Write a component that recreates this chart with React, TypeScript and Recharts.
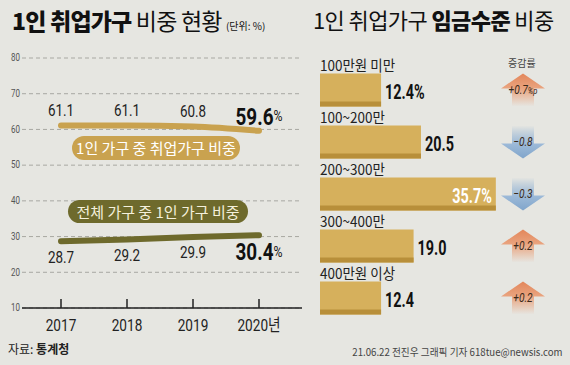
import React from 'react';
import {
  LineChart, Line, XAxis, YAxis, CartesianGrid, LabelList,
  BarChart, Bar,
} from 'recharts';

const years = ['2017', '2018', '2019', '2020'];
const employedShare = [61.1, 61.1, 60.8, 59.6];
const singleShare = [28.7, 29.2, 29.9, 30.4];
const yTicks = [10, 20, 30, 40, 50, 60, 70, 80];

const wageBands = ['100만원 미만', '100~200만', '200~300만', '300~400만', '400만원 이상'];
const wageShare = [12.4, 20.5, 35.7, 19.0, 12.4];
const wageChange = [0.7, -0.8, -0.3, 0.2, 0.2];

const BG = '#e6e6e1';
const GOLD = '#c9a24f';
const OLIVE = '#6e6a2c';
const BAR = '#d6b05c';
const BAR_DARK = '#b88f3a';
const NUM = 'Roboto, "Noto Sans CJK KR", sans-serif';
const KR = '"Noto Sans CJK KR", sans-serif';

const lineData = years.map((y, i) => ({ year: y, employed: employedShare[i], single: singleShare[i] }));
const barData = wageBands.map((n, i) => ({ name: n, value: wageShare[i], change: wageChange[i] }));

// condensed look: the reference uses a narrow face, so squeeze horizontally
const Narrow = ({ x, y, sx = 0.8, children, ...rest }: any) => (
  <text transform={`translate(${x} ${y}) scale(${sx} 1)`} dominantBaseline="central" fontFamily={NUM} {...rest}>
    {children}
  </text>
);

const pointLabel = (offset: number, last: number) => (props: any) => {
  const { x, y, value, index } = props;
  if (index === last) {
    return (
      <Narrow x={x} y={y + offset} sx={0.82} textAnchor="middle" fill="#111">
        <tspan fontSize={23} fontWeight="bold">{Number(value).toFixed(1)}</tspan>
        <tspan fontSize={15}>%</tspan>
      </Narrow>
    );
  }
  return (
    <Narrow x={x} y={y + offset} sx={0.84} textAnchor="middle" fontSize={16} fill="#222">
      {Number(value).toFixed(1)}
    </Narrow>
  );
};

const YearTick = (props: any) => {
  const { x, y, payload } = props;
  return (
    <g>
      <line x1={x} x2={x} y1={y} y2={y - 9} stroke="#222" strokeWidth={1.5} />
      <Narrow x={x} y={y + 17} sx={0.8} textAnchor="middle" fontSize={17} fill="#222">
        {payload.value === '2020' ? '2020년' : payload.value}
      </Narrow>
    </g>
  );
};

const ValueTick = (props: any) => {
  const { x, y, payload } = props;
  return (
    <Narrow x={x} y={y} sx={0.8} textAnchor="end" fontSize={10} fill="#555">
      {payload.value}
    </Narrow>
  );
};

const WageBar = (props: any) => {
  const { x, y, width, height } = props;
  return (
    <g>
      <rect x={x} y={y} width={width} height={height} fill={BAR} />
      <rect x={x} y={y + height - 5} width={width} height={5} fill={BAR_DARK} />
    </g>
  );
};

const ValueLabel = (props: any) => {
  const { x, y, width, height, index } = props;
  const v = wageShare[index];
  const txt = v.toFixed(1) + (index === 0 || index === 2 ? '%' : '');
  const inside = index === 2;
  return (
    <Narrow
      x={inside ? x + width - 4 : x + width + 4}
      y={y + height / 2 + 2}
      sx={0.72}
      textAnchor={inside ? 'end' : 'start'}
      fontSize={20}
      fontWeight="bold"
      fill={inside ? '#fff' : '#111'}
    >
      {txt}
    </Narrow>
  );
};

const NameLabel = (props: any) => {
  const { x, y, index } = props;
  return (
    <Narrow x={x} y={y - 9} sx={0.9} fontSize={15} fontFamily={KR} fill="#222">
      {wageBands[index]}
    </Narrow>
  );
};

const ChangeArrow = (props: any) => {
  const { y, height, index } = props;
  const c = wageChange[index];
  const cx = 223;
  const top = y;
  const bot = y + height;
  const up = c > 0;
  const id = `grad-${index}`;
  const pts = up
    ? [[cx, top], [cx + 22, top + 15], [cx + 11, top + 15], [cx + 11, bot], [cx - 11, bot], [cx - 11, top + 15], [cx - 22, top + 15]]
    : [[cx - 11, top], [cx + 11, top], [cx + 11, bot - 15], [cx + 22, bot - 15], [cx, bot], [cx - 22, bot - 15], [cx - 11, bot - 15]];
  const label = (up ? '+' : '−') + Math.abs(c).toFixed(1);
  return (
    <g>
      <defs>
        <linearGradient id={id} x1="0" y1="0" x2="0" y2="1">
          {up ? (
            <>
              <stop offset="0%" stopColor="#e3865a" />
              <stop offset="45%" stopColor="#e9a47f" />
              <stop offset="100%" stopColor="#e9a47f" stopOpacity={0} />
            </>
          ) : (
            <>
              <stop offset="0%" stopColor="#88acd0" stopOpacity={0} />
              <stop offset="55%" stopColor="#9dbad8" />
              <stop offset="100%" stopColor="#80a5cb" />
            </>
          )}
        </linearGradient>
      </defs>
      <polygon points={pts.map((p) => p.join(',')).join(' ')} fill={`url(#${id})`} />
      <Narrow x={cx} y={top + 17} sx={0.85} textAnchor="middle" fontSize={12} fontStyle="italic" fill="#3a2a1a">
        {label}
        {index === 0 && <tspan fontSize={9}>%p</tspan>}
      </Narrow>
    </g>
  );
};

export default function App() {
  return (
    <div style={{ position: 'absolute', left: 0, top: 0, width: 570, height: 365, background: BG, overflow: 'hidden', fontFamily: KR }}>
      <div style={{ position: 'absolute', left: 12, top: 3, fontSize: 23, color: '#111', whiteSpace: 'nowrap', letterSpacing: -0.8 }}>
        <b style={{ fontWeight: 900 }}>1인 취업가구</b> 비중 현황 <span style={{ fontSize: 10, letterSpacing: 0 }}>(단위: %)</span>
      </div>
      <div style={{ position: 'absolute', left: 313, top: 3, fontSize: 22, color: '#111', whiteSpace: 'nowrap', letterSpacing: -0.6 }}>
        1인 취업가구 <b style={{ fontWeight: 900 }}>임금수준</b> 비중
      </div>

      <div style={{ position: 'absolute', left: 0, top: 0 }}>
        <LineChart width={302} height={340} data={lineData} margin={{ top: 58, right: 0, bottom: 2, left: 0 }}>
          <CartesianGrid vertical={false} stroke="#a8a8a2" strokeDasharray="4 3" />
          <YAxis
            domain={[10, 80]}
            ticks={yTicks}
            width={22}
            axisLine={false}
            tickLine={false}
            tickSize={0}
            tick={<ValueTick />}
          />
          <XAxis
            dataKey="year"
            padding={{ left: 39, right: 43 }}
            height={30}
            axisLine={{ stroke: '#222', strokeWidth: 1.5 }}
            tickLine={false}
            tickSize={0}
            tickMargin={0}
            tick={<YearTick />}
          />
          <Line dataKey="employed" type="monotone" stroke={GOLD} strokeWidth={6} strokeLinecap="round" dot={false} isAnimationActive={false}>
            <LabelList dataKey="employed" content={pointLabel(-15, 3)} />
          </Line>
          <Line dataKey="single" type="monotone" stroke={OLIVE} strokeWidth={6} strokeLinecap="round" dot={false} isAnimationActive={false}>
            <LabelList dataKey="single" content={pointLabel(16, 3)} />
          </Line>
        </LineChart>
      </div>

      <div style={{ position: 'absolute', left: 72, top: 136, width: 168, height: 24, borderRadius: 12, background: GOLD, color: '#fff', fontSize: 15, lineHeight: '24px', textAlign: 'center', whiteSpace: 'nowrap' }}>
        1인 가구 중 취업가구 비중
      </div>
      <div style={{ position: 'absolute', left: 68, top: 200, width: 180, height: 23, borderRadius: 12, background: OLIVE, color: '#f4f0dc', fontSize: 15, lineHeight: '23px', textAlign: 'center', whiteSpace: 'nowrap' }}>
        전체 가구 중 1인 가구 비중
      </div>

      <div style={{ position: 'absolute', left: 300, top: 0 }}>
        <BarChart width={270} height={365} data={barData} layout="vertical" margin={{ top: 63.5, right: 53, bottom: 41.5, left: 20 }}>
          <XAxis type="number" domain={[0, 40]} hide />
          <YAxis type="category" dataKey="name" hide />
          <Bar dataKey="value" barSize={33} shape={<WageBar />} isAnimationActive={false}>
            <LabelList dataKey="value" content={<NameLabel />} />
            <LabelList dataKey="value" content={<ValueLabel />} />
            <LabelList dataKey="change" content={<ChangeArrow />} />
          </Bar>
        </BarChart>
      </div>

      <div style={{ position: 'absolute', left: 508, top: 55, fontSize: 10, color: '#444', whiteSpace: 'nowrap' }}>증감률</div>

      <div style={{ position: 'absolute', left: 8, top: 340, fontSize: 12, color: '#222', whiteSpace: 'nowrap' }}>
        자료: <b>통계청</b>
      </div>
      <div style={{ position: 'absolute', right: 8, top: 344, fontSize: 10.5, color: '#444', whiteSpace: 'nowrap', transform: 'scaleX(0.92)', transformOrigin: 'right center' }}>
        21.06.22 전진우 그래픽 기자 618tue@newsis.com
      </div>
    </div>
  );
}
